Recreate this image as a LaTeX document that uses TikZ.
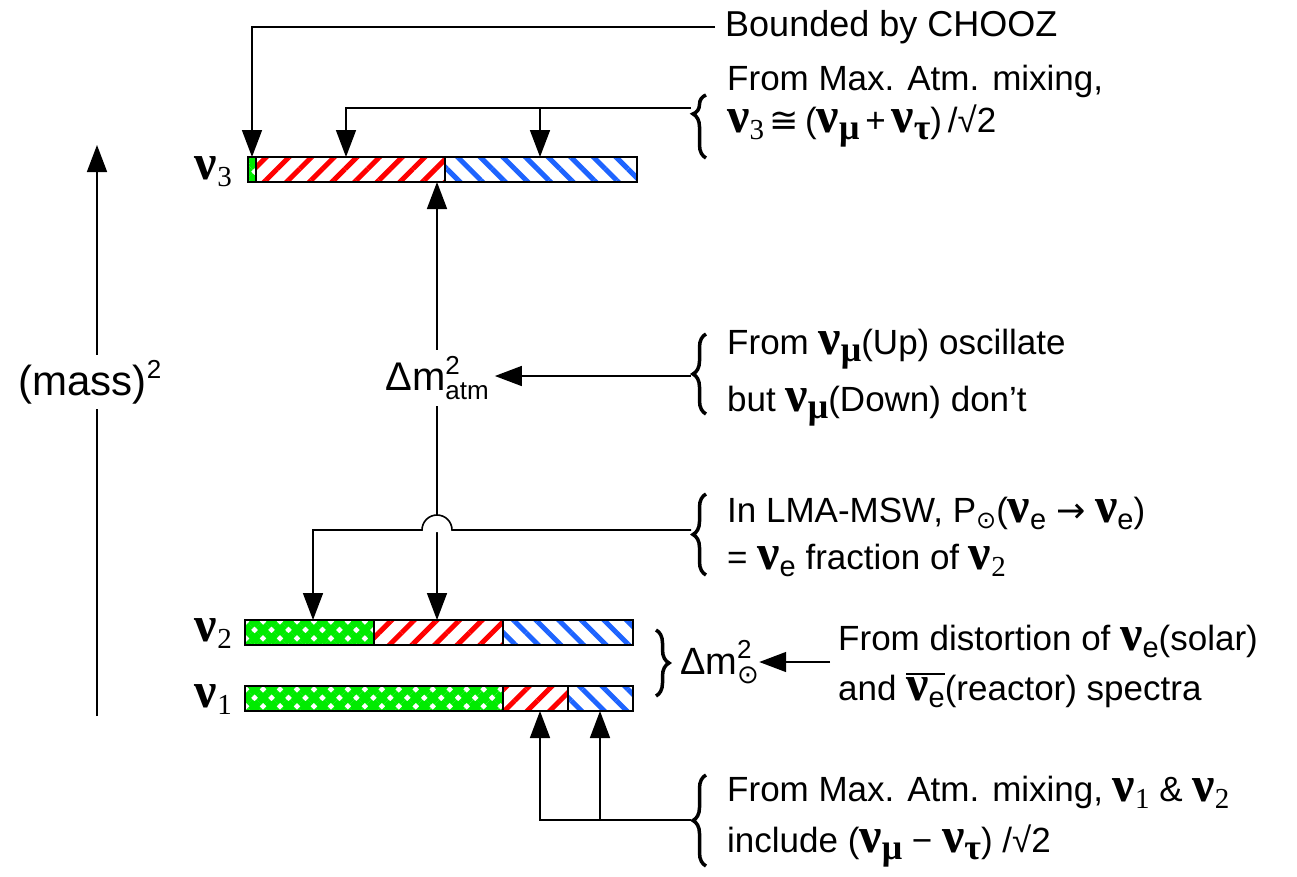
\documentclass[tikz,border=0pt]{standalone}
\usepackage{fontspec}
\setmainfont{Liberation Sans}
\newfontfamily\grk{Liberation Serif}
\newfontfamily\sym{DejaVu Sans}
\usetikzlibrary{positioning,calc,arrows.meta,patterns.meta,decorations.pathreplacing}
\definecolor{stripered}{RGB}{255,0,0}
\definecolor{stripeblue}{RGB}{30,100,255}
\definecolor{hatchgreen}{RGB}{0,235,0}
\newcommand\gr[1]{{\fontsize{50}{50}\selectfont\grk\bfseries #1}}
\newcommand\grs[1]{{\fontsize{36}{36}\selectfont\grk\bfseries #1}}
\newcommand\sub[1]{\lower7pt\hbox{\fontsize{29}{29}\selectfont #1}}
\newcommand\nusub[1]{\gr{ν}\sub{#1}}
\newcommand\nun[1]{\gr{ν}\sub{\grk #1}}
\newcommand\supsub[2]{\rlap{\raise0.42em\hbox{\fontsize{26}{26}\selectfont #1}}\lower0.22em\hbox{\fontsize{26}{26}\selectfont #2}}
\newcommand\barred[1]{\setbox0\hbox{#1}\rlap{\raise\dimexpr\ht0+2pt\relax\hbox{\rule{\wd0}{1.8pt}}}\box0}
\tikzset{bar/.style={draw,line width=1.6pt}}
\tikzset{redbar/.style={bar,pattern={Lines[angle=45,distance=16pt,line width=5pt]},pattern color=stripered}}
\tikzset{bluebar/.style={bar,pattern={Lines[angle=-45,distance=16pt,line width=5pt]},pattern color=stripeblue}}
\tikzset{greenbar/.style={bar,pattern={Hatch[angle=45,distance=12pt,line width=7pt]},pattern color=hatchgreen}}
\begin{document}
\begin{tikzpicture}[x=1pt,y=-1pt,
  every node/.style={font=\fontsize{35}{42}\selectfont,inner sep=0pt},
  conn/.style={line width=1.6pt,-{Triangle[length=27pt,width=20pt]}},
  brc/.style={line width=3.5pt,decorate,decoration={brace,amplitude=13pt}}]
\useasboundingbox (0,0) rectangle (1297,876);

% end points on the bars
\coordinate (c3a) at (252,157);
\coordinate (c3b) at (346,157);
\coordinate (c3c) at (540,157);
\coordinate (c3d) at (437,182);
\coordinate (c2a) at (313,620);
\coordinate (c2b) at (437,620);
\coordinate (c1a) at (540,711);
\coordinate (c1b) at (600,711);

% mass eigenstates
\draw[greenbar] (248,157) rectangle (256,182);
\draw[redbar] (256,157) rectangle (445,182);
\draw[bluebar] (445,157) rectangle (637,182);
\draw[greenbar] (245,620) rectangle (374,645);
\draw[redbar] (374,620) rectangle (503,645);
\draw[bluebar] (503,620) rectangle (633,645);
\draw[greenbar] (245,686) rectangle (503,711);
\draw[redbar] (503,686) rectangle (568,711);
\draw[bluebar] (568,686) rectangle (633,711);

\node[anchor=east] (nu3) at (232,172) {\nun{3}};
\node[anchor=east] (nu2) at (232,634) {\nun{2}};
\node[anchor=east] (nu1) at (232,700) {\nun{1}};

% mass axis
\coordinate (axlo) at (97,716);
\coordinate (axhi) at (97,145);
\draw[conn] (axlo) -- (axhi);
\node[fill=white,inner sep=5pt,font=\fontsize{42}{42}\selectfont] (mass) at (90,382) {(mass)\raise0.4em\hbox{\fontsize{26}{26}\selectfont 2}};

% CHOOZ
\node[anchor=west,font=\fontsize{36}{42}\selectfont] (chooz) at (725,27) {Bounded by CHOOZ};
\draw[conn] ([xshift=-10pt]chooz.west) -| (c3a);

% maximal atmospheric mixing, nu3
\draw[brc,decoration={aspect=0.7}] (706,158) -- (706,95);
\coordinate (br3) at (691,108);
\draw[conn] (br3) -| (c3b);
\draw[conn] (br3 -| c3c) -- (c3c);
\node[anchor=west,align=left] (mix3) at (727,106) {From Max. Atm. mixing,\\\nun{3}\,{\sym ≅}\,(\nusub{\grs{μ}}\,+\,\nusub{\grs{τ}})\,/√2};

% atmospheric splitting
\node[inner sep=6pt,font=\fontsize{40}{40}\selectfont] (datm) at (437,378) {Δm\supsub{2}{atm}};
\draw[conn] (datm.north) -- (c3d);
\draw[conn] (datm.south) -- (c2b);
\draw[brc] (706,414) -- (706,334);
\coordinate (bratm) at (691,376);
\draw[conn] (bratm) -- (bratm -| datm.east);
\node[anchor=west,align=left,font=\fontsize{35}{57}\selectfont] (osc) at (727,378) {From \nusub{\grs{μ}}(Up) oscillate\\but \nusub{\grs{μ}}(Down) don't};

% LMA-MSW
\draw[brc] (706,575) -- (706,494);
\coordinate (brlma) at (691,530);
\fill[white] ($(c2b |- brlma)+(16,2)$) arc[start angle=0,end angle=-180,radius=16] -- cycle;
\draw[conn] (brlma) -- ($(c2b |- brlma)+(15,0)$) arc[start angle=0,end angle=-180,radius=15] -- (c2a |- brlma) -- (c2a);
\node[anchor=west,align=left,font=\fontsize{35}{47}\selectfont] (lma) at (727,537) {In LMA-MSW, P\lower6pt\hbox{\sym\fontsize{24}{24}\selectfont ⊙}(\nusub{e} {\sym →} \nusub{e})\\= \nusub{e} fraction of \nun{2}};

% solar splitting
\draw[brc] (656,630) -- (656,696);
\node[anchor=west,font=\fontsize{38}{38}\selectfont] (dsol) at (680,662) {Δm\supsub{2}{\sym ⊙}};
\coordinate (solin) at (830,662);
\draw[conn] (solin) -- (dsol.east);
\node[anchor=west,align=left,font=\fontsize{35}{50}\selectfont] (spec) at (838,666) {From distortion of \nusub{e}(solar)\\and \barred{\nusub{e}}(reactor) spectra};

% maximal atmospheric mixing, nu1 and nu2
\draw[brc] (706,866) -- (706,775);
\coordinate (brinc) at (691,820);
\draw[conn] (brinc) -| (c1a);
\draw[conn] (brinc -| c1b) -- (c1b);
\node[anchor=west,align=left,font=\fontsize{35}{51}\selectfont] (inc) at (727,822) {From Max. Atm. mixing, \nun{1} \& \nun{2}\\include (\nusub{\grs{μ}} − \nusub{\grs{τ}}) /√2};
\end{tikzpicture}
\end{document}
